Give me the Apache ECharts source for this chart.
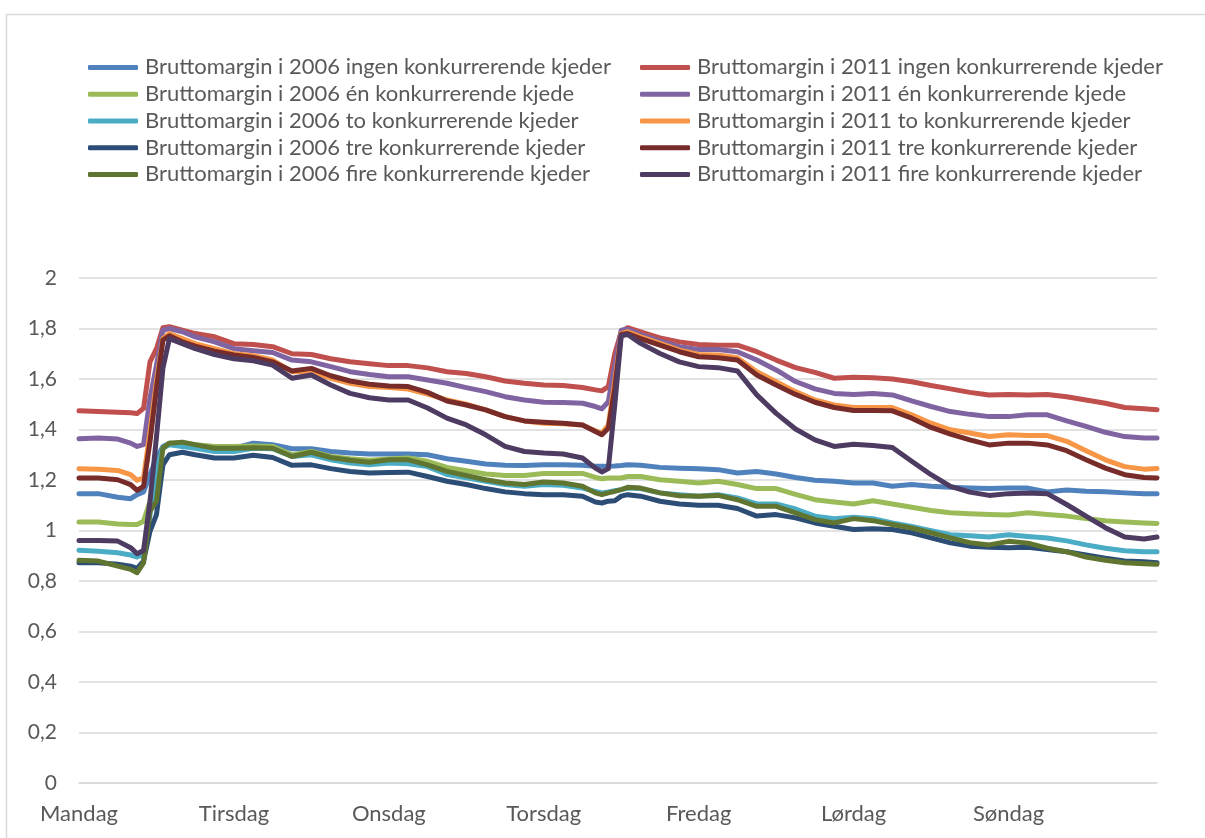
<!DOCTYPE html>
<html>
<head>
<meta charset="utf-8">
<script src="https://cdn.jsdelivr.net/npm/echarts@6/dist/echarts.min.js"></script>
<style>
html,body{margin:0;padding:0;background:#fff;}
#chart{width:1205px;height:838px;}
</style>
</head>
<body>
<div id="chart"></div>
<script>
// hour of week (0 = Monday 00:00)
const hours = [0,3,6,8,9,10,11,12,13,14,16,18,21,24,27,30,33,36,39,42,45,48,51,54,57,60,63,66,69,72,75,78,80,81,82,83,84,85,87,90,93,96,99,102,105,108,111,114,117,120,123,126,129,132,135,138,141,144,147,150,153,156,159,162,165,167];
const dayLabels = ['Mandag','Tirsdag','Onsdag','Torsdag','Fredag','Lørdag','Søndag'];
const yTicks = [0,0.2,0.4,0.6,0.8,1,1.2,1.4,1.6,1.8,2];

const m2006ingen = [1.146,1.146,1.132,1.126,1.142,1.153,1.221,1.287,1.333,1.346,1.34,1.333,1.326,1.326,1.346,1.34,1.324,1.324,1.313,1.307,1.303,1.303,1.303,1.30,1.284,1.274,1.263,1.258,1.257,1.26,1.26,1.258,1.254,1.254,1.254,1.255,1.257,1.26,1.258,1.25,1.247,1.245,1.241,1.228,1.234,1.224,1.21,1.199,1.195,1.188,1.188,1.175,1.182,1.175,1.171,1.168,1.166,1.168,1.168,1.153,1.16,1.155,1.153,1.149,1.146,1.146];
const m2006en = [1.034,1.034,1.026,1.024,1.024,1.037,1.116,1.221,1.326,1.346,1.346,1.34,1.333,1.333,1.335,1.333,1.30,1.313,1.293,1.284,1.278,1.283,1.287,1.274,1.25,1.237,1.224,1.218,1.218,1.226,1.226,1.226,1.21,1.205,1.208,1.208,1.208,1.214,1.214,1.201,1.195,1.188,1.195,1.182,1.166,1.166,1.143,1.122,1.113,1.105,1.118,1.105,1.092,1.079,1.07,1.066,1.063,1.061,1.07,1.063,1.057,1.047,1.039,1.034,1.03,1.028];
const m2006to = [0.922,0.918,0.912,0.903,0.895,0.905,1.063,1.234,1.326,1.34,1.333,1.326,1.313,1.313,1.326,1.324,1.293,1.30,1.28,1.267,1.26,1.267,1.264,1.253,1.222,1.209,1.195,1.182,1.175,1.182,1.179,1.168,1.155,1.149,1.153,1.158,1.162,1.168,1.166,1.149,1.142,1.136,1.142,1.129,1.105,1.105,1.085,1.057,1.047,1.053,1.047,1.03,1.016,0.999,0.983,0.979,0.974,0.983,0.976,0.97,0.959,0.943,0.93,0.92,0.916,0.916];
const m2006tre = [0.872,0.872,0.866,0.859,0.85,0.879,0.997,1.063,1.26,1.30,1.31,1.30,1.287,1.287,1.298,1.289,1.258,1.26,1.245,1.234,1.228,1.23,1.231,1.214,1.195,1.182,1.166,1.153,1.146,1.142,1.142,1.136,1.113,1.109,1.116,1.118,1.136,1.142,1.136,1.116,1.105,1.10,1.10,1.087,1.057,1.063,1.05,1.03,1.017,1.004,1.007,1.004,0.991,0.971,0.951,0.938,0.934,0.932,0.934,0.925,0.916,0.903,0.89,0.879,0.876,0.872];
const m2006fire = [0.882,0.879,0.859,0.846,0.833,0.872,1.076,1.116,1.326,1.346,1.35,1.34,1.326,1.326,1.328,1.326,1.293,1.31,1.289,1.278,1.27,1.28,1.28,1.26,1.234,1.218,1.201,1.188,1.182,1.192,1.188,1.175,1.149,1.142,1.149,1.155,1.162,1.171,1.168,1.149,1.138,1.136,1.139,1.122,1.096,1.096,1.07,1.043,1.03,1.047,1.039,1.024,1.01,0.991,0.971,0.952,0.943,0.957,0.95,0.93,0.916,0.895,0.882,0.872,0.868,0.866];
const m2011ingen = [1.474,1.471,1.468,1.466,1.463,1.484,1.668,1.72,1.803,1.807,1.793,1.78,1.767,1.74,1.737,1.728,1.70,1.697,1.68,1.668,1.66,1.653,1.653,1.644,1.629,1.622,1.609,1.592,1.583,1.576,1.574,1.566,1.557,1.553,1.57,1.70,1.787,1.803,1.787,1.763,1.747,1.737,1.734,1.734,1.708,1.675,1.645,1.626,1.603,1.607,1.605,1.60,1.589,1.574,1.561,1.547,1.537,1.539,1.537,1.539,1.53,1.517,1.504,1.487,1.482,1.478];
const m2011en = [1.363,1.366,1.362,1.346,1.333,1.34,1.524,1.655,1.793,1.80,1.787,1.767,1.747,1.72,1.712,1.705,1.675,1.668,1.649,1.629,1.618,1.609,1.609,1.596,1.583,1.566,1.55,1.53,1.517,1.508,1.507,1.504,1.491,1.482,1.51,1.655,1.793,1.797,1.776,1.75,1.728,1.717,1.717,1.708,1.675,1.636,1.59,1.561,1.543,1.539,1.543,1.537,1.513,1.491,1.471,1.46,1.451,1.451,1.458,1.458,1.434,1.412,1.389,1.372,1.366,1.366];
const m2011to = [1.245,1.243,1.238,1.221,1.199,1.208,1.392,1.59,1.76,1.78,1.76,1.74,1.72,1.70,1.692,1.675,1.629,1.629,1.603,1.583,1.57,1.566,1.56,1.54,1.517,1.50,1.478,1.451,1.434,1.425,1.423,1.418,1.395,1.386,1.418,1.589,1.78,1.787,1.767,1.741,1.714,1.697,1.695,1.684,1.629,1.589,1.55,1.517,1.497,1.487,1.487,1.487,1.458,1.425,1.399,1.386,1.372,1.379,1.376,1.376,1.353,1.316,1.28,1.253,1.243,1.246];
const m2011tre = [1.208,1.208,1.201,1.182,1.159,1.175,1.353,1.563,1.754,1.771,1.747,1.73,1.71,1.695,1.685,1.668,1.632,1.642,1.613,1.592,1.579,1.572,1.57,1.547,1.513,1.497,1.478,1.451,1.434,1.429,1.425,1.418,1.392,1.379,1.405,1.563,1.776,1.78,1.76,1.734,1.708,1.688,1.684,1.675,1.616,1.576,1.539,1.508,1.487,1.475,1.475,1.474,1.445,1.408,1.382,1.359,1.339,1.346,1.346,1.339,1.316,1.28,1.247,1.221,1.21,1.208];
const m2011fire = [0.96,0.96,0.958,0.932,0.908,0.921,1.116,1.37,1.643,1.76,1.74,1.72,1.697,1.68,1.672,1.655,1.603,1.616,1.576,1.543,1.526,1.517,1.517,1.485,1.445,1.418,1.379,1.333,1.313,1.307,1.303,1.287,1.247,1.232,1.245,1.497,1.771,1.776,1.741,1.701,1.668,1.649,1.645,1.632,1.537,1.464,1.402,1.359,1.333,1.342,1.337,1.329,1.274,1.221,1.175,1.152,1.139,1.146,1.149,1.146,1.103,1.057,1.011,0.974,0.966,0.974];

const seriesDefs = [
  {name:'Bruttomargin i 2006 ingen konkurrerende kjeder', data:m2006ingen, color:'#4F81BD'},
  {name:'Bruttomargin i 2011 ingen konkurrerende kjeder', data:m2011ingen, color:'#C0504D'},
  {name:'Bruttomargin i 2006 én konkurrerende kjede', data:m2006en, color:'#9BBB59'},
  {name:'Bruttomargin i 2011 én konkurrerende kjede', data:m2011en, color:'#8064A2'},
  {name:'Bruttomargin i 2006 to konkurrerende kjeder', data:m2006to, color:'#4BACC6'},
  {name:'Bruttomargin i 2011 to konkurrerende kjeder', data:m2011to, color:'#F79646'},
  {name:'Bruttomargin i 2006 tre konkurrerende kjeder', data:m2006tre, color:'#2C4D75'},
  {name:'Bruttomargin i 2011 tre konkurrerende kjeder', data:m2011tre, color:'#772C2A'},
  {name:'Bruttomargin i 2006 fire konkurrerende kjeder', data:m2006fire, color:'#5F7530'},
  {name:'Bruttomargin i 2011 fire konkurrerende kjeder', data:m2011fire, color:'#4D3B62'}
];

const FONT = 'Lato';
const TXT = '#595959';
const chart = echarts.init(document.getElementById('chart'), null, {renderer:'canvas'});

const legendBase = {
  orient:'vertical', top:49, itemWidth:50, itemHeight:5, itemGap:0, icon:'roundRect',
  textStyle:{fontFamily:FONT, fontSize:22, color:TXT, lineHeight:26.75, padding:[0,0,0,2]}
};

chart.setOption({
  backgroundColor:'#ffffff',
  animation:false,
  graphic:[{type:'rect', left:4, top:12, shape:{width:1220, height:850}, style:{fill:'none', stroke:'#d9d9d9', lineWidth:1.5}, silent:true}],
  legend:[
    Object.assign({}, legendBase, {left:83, data:seriesDefs.filter((s,i)=>i%2===0).map(s=>s.name)}),
    Object.assign({}, legendBase, {left:635, data:seriesDefs.filter((s,i)=>i%2===1).map(s=>s.name)})
  ],
  grid:{left:79, right:48, top:278, bottom:55, containLabel:false},
  xAxis:{
    type:'value', min:0, max:167, interval:24,
    axisLine:{show:true, lineStyle:{color:'#d9d9d9', width:1.5}},
    axisTick:{show:false},
    splitLine:{show:false},
    axisLabel:{fontFamily:FONT, fontSize:22, color:TXT, margin:20,
      formatter:function(v){ return (v % 24 === 0) ? (dayLabels[v/24] || '') : ''; }}
  },
  yAxis:{
    type:'value', min:0, max:2, interval:0.2,
    axisLine:{show:false}, axisTick:{show:false},
    splitLine:{lineStyle:{color:'#d9d9d9', width:1.5}},
    axisLabel:{fontFamily:FONT, fontSize:21, color:TXT, margin:22,
      formatter:function(v){ return String(Math.round(v*10)/10).replace('.', ','); }}
  },
  series:seriesDefs.map(s=>({
    name:s.name, type:'line', showSymbol:false, symbol:'none',
    data:hours.map((h,i)=>[h, s.data[i]]),
    lineStyle:{color:s.color, width:5, cap:'round', join:'round'},
    itemStyle:{color:s.color},
    emphasis:{disabled:true}
  }))
});
</script>
</body>
</html>
